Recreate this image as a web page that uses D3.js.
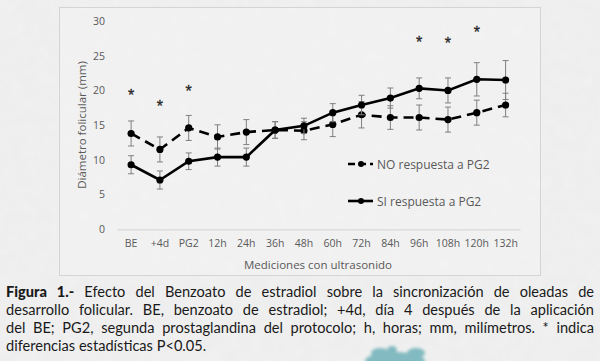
<!DOCTYPE html>
<html><head><meta charset="utf-8">
<script src="https://cdn.jsdelivr.net/npm/d3@7/dist/d3.min.js"></script>
<style>
html,body{margin:0;padding:0;}
body{width:600px;height:361px;overflow:hidden;background:#efefef;position:relative;font-family:"Open Sans",sans-serif;}
#cap{position:absolute;left:6px;top:283px;width:588px;font-family:"Lato","Noto Sans",sans-serif;font-size:14.6px;line-height:18px;color:#1a1a1a;}
#cap div{text-align:justify;text-align-last:justify;white-space:nowrap;}
#cap div.last{text-align-last:left;}
</style></head><body>
<svg id="chart" width="600" height="361" style="position:absolute;left:0;top:0"></svg>
<div id="cap"></div>
<script>
const categories = ["BE","+4d","PG2","12h","24h","36h","48h","60h","72h","84h","96h","108h","120h","132h"];
const siValues = [9.3,7.1,9.8,10.4,10.4,14.3,14.9,16.8,17.9,18.9,20.3,20.0,21.6,21.5];
const siErrors = [1.3,1.3,1.2,1.3,1.3,1.2,1.1,1.3,1.4,1.45,1.5,1.8,2.4,2.8];
const noValues = [13.8,11.5,14.6,13.3,14.0,14.3,14.2,15.1,16.5,16.1,16.1,15.8,16.8,17.9];
const noErrors = [1.8,1.8,1.8,1.75,1.8,1.2,1.3,1.75,1.9,1.7,1.8,1.8,1.8,1.7];
const sigCategories = ["BE","+4d","PG2","96h","108h","120h"];
const sigHeights = [19.7,18.0,20.2,27.3,27.1,28.7];
const yTicks = [0,5,10,15,20,25,30];
const seriesNames = ["NO respuesta a PG2","SI respuesta a PG2"];
const captionLines = [
 ["Figura 1.-"," Efecto del Benzoato de estradiol sobre la sincronización de oleadas de"],
 ["","desarrollo folicular. BE, benzoato de estradiol; +4d, día 4 después de la aplicación"],
 ["","del BE; PG2, segunda prostaglandina del protocolo; h, horas; mm, milímetros. * indica"],
 ["","diferencias estadísticas P<0.05."]
];

const svg = d3.select("#chart");
const defs = svg.append("defs");
const f = defs.append("filter").attr("id","paper").attr("x",0).attr("y",0).attr("width","100%").attr("height","100%");
f.append("feTurbulence").attr("type","fractalNoise").attr("baseFrequency","0.08").attr("numOctaves",3).attr("seed",4).attr("result","n");
f.append("feColorMatrix").attr("type","matrix").attr("values","0 0 0 0 0.55  0 0 0 0 0.55  0 0 0 0 0.55  0 0 0 0.10 0");
const bl = defs.append("filter").attr("id","blur");
bl.append("feGaussianBlur").attr("stdDeviation",1.5);
svg.append("rect").attr("width",600).attr("height",361).attr("fill","#f1f1f1");
svg.append("rect").attr("width",600).attr("height",361).attr("filter","url(#paper)");
// teal blob
const blob = svg.append("g").attr("filter","url(#blur)").attr("fill","#5fa9b2").attr("opacity",0.75);
blob.append("ellipse").attr("cx",395).attr("cy",361).attr("rx",30).attr("ry",9);
blob.append("ellipse").attr("cx",380).attr("cy",353).attr("rx",9).attr("ry",5);
blob.append("ellipse").attr("cx",392).attr("cy",350).attr("rx",5).attr("ry",4);
blob.append("ellipse").attr("cx",416).attr("cy",353).attr("rx",9).attr("ry",5);

svg.append("rect").attr("x",59.5).attr("y",7.5).attr("width",481).attr("height",268)
  .attr("fill","#f4f4f4").attr("fill-opacity",0.5).attr("stroke","#d4d4d4").attr("stroke-width",1);

const x = d3.scaleBand().domain(categories).range([116.7,520]);
const y = d3.scaleLinear().domain([0,30]).range([229.3,21]);
const cx = d => x(d)+x.bandwidth()/2;

const xAxis = svg.append("g").attr("transform","translate(0,229.3)")
  .call(d3.axisBottom(x).tickSize(0).tickPadding(10));
xAxis.select(".domain").attr("stroke","#d9d9d9").attr("stroke-width",1.2);
xAxis.selectAll("text").attr("font-family","Open Sans").attr("font-size",10.5).attr("fill","#595959");
const yAxis = svg.append("g").attr("transform","translate(105,0)")
  .call(d3.axisLeft(y).tickValues(yTicks).tickSize(0).tickPadding(0));
yAxis.select(".domain").remove();
yAxis.selectAll("text").attr("font-family","Open Sans").attr("font-size",10.5).attr("fill","#595959");

svg.append("text").attr("x",318).attr("y",269).attr("text-anchor","middle")
  .attr("font-family","Open Sans").attr("font-size",11.5).attr("fill","#595959").text("Mediciones con ultrasonido");
svg.append("text").attr("transform","translate(86,125) rotate(-90)").attr("text-anchor","middle")
  .attr("font-family","Open Sans").attr("font-size",11.5).attr("fill","#595959").text("Diámetro folicular (mm)");

function drawSeries(vals, errs, dashed){
  const g = svg.append("g");
  const eb = g.append("g").attr("stroke","#7f7f7f").attr("stroke-width",1);
  categories.forEach((c,i)=>{
    const xc = cx(c), y1 = y(vals[i]+errs[i]), y2 = y(vals[i]-errs[i]);
    eb.append("line").attr("x1",xc).attr("x2",xc).attr("y1",y1).attr("y2",y2);
    eb.append("line").attr("x1",xc-3).attr("x2",xc+3).attr("y1",y1).attr("y2",y1);
    eb.append("line").attr("x1",xc-3).attr("x2",xc+3).attr("y1",y2).attr("y2",y2);
  });
  const line = d3.line().x((d,i)=>cx(categories[i])).y(d=>y(d));
  g.append("path").datum(vals).attr("d",line).attr("fill","none").attr("stroke","#000")
    .attr("stroke-width",2.6).attr("stroke-dasharray",dashed?"10,6":null);
  g.selectAll("circle").data(vals).join("circle")
    .attr("cx",(d,i)=>cx(categories[i])).attr("cy",d=>y(d)).attr("r",3.6).attr("fill","#000");
}
drawSeries(noValues, noErrors, true);
drawSeries(siValues, siErrors, false);

svg.append("g").selectAll("text").data(sigCategories).join("text")
  .attr("x",d=>cx(d)).attr("y",(d,i)=>y(sigHeights[i])+8)
  .attr("text-anchor","middle").attr("font-family","Liberation Sans").attr("font-size",16)
  .attr("fill","#262626").attr("stroke","#262626").attr("stroke-width",0.3).text("*");

const lg = svg.append("g");
seriesNames.forEach((name,i)=>{
  const ly = 164 + i*37;
  lg.append("line").attr("x1",348).attr("x2",373).attr("y1",ly).attr("y2",ly).attr("stroke","#000")
    .attr("stroke-width",2.6).attr("stroke-dasharray",i===0?"7,4":null);
  lg.append("circle").attr("cx",361).attr("cy",ly).attr("r",3).attr("fill","#000");
  lg.append("text").attr("x",377).attr("y",ly+4.5).attr("font-family","Open Sans").attr("font-size",12)
    .attr("fill","#595959").text(name);
});

const cap = d3.select("#cap");
captionLines.forEach((l,i)=>{
  const d = cap.append("div").attr("class", i===captionLines.length-1?"last":null);
  if(l[0]) d.append("b").style("font-weight","900").text(l[0]);
  d.append("span").text(l[1]);
});
</script>
</body></html>
